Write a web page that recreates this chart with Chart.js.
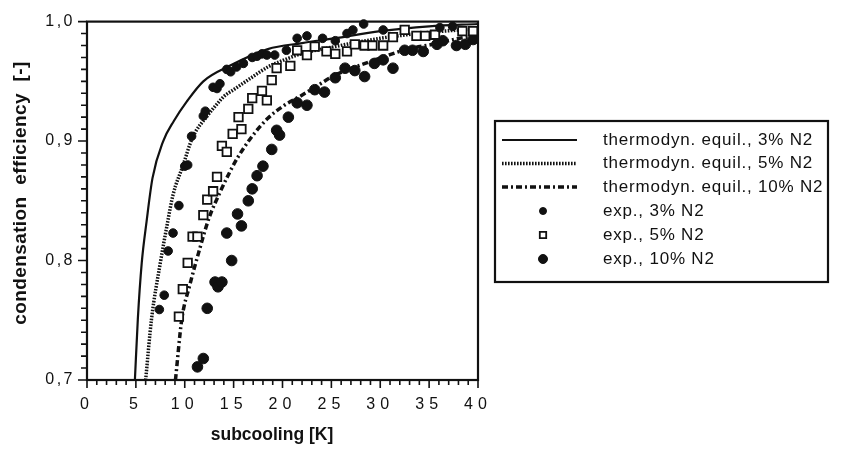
<!DOCTYPE html>
<html>
<head>
<meta charset="utf-8">
<script src="https://cdn.jsdelivr.net/npm/chart.js@4.4.0/dist/chart.umd.min.js"></script>
<style>
   html, body { margin: 0; padding: 0; background: #fff; }
</style>
</head>
<body>
<canvas id="chart-eff" width="842" height="449"></canvas>
<script>
// thermodynamic equilibrium curves
var eq3X = [4.9, 5.2, 5.6, 6.1, 6.7, 7.8, 8.9, 10.2, 11.9, 14.6, 18.5, 22, 25.3, 30, 35, 40];
var eq3Y = [0.700, 0.751, 0.798, 0.833, 0.869, 0.900, 0.917, 0.933, 0.950, 0.963, 0.977, 0.982, 0.986, 0.992, 0.996, 0.998];

var eq5X = [6.0, 6.6, 7.5, 8.2, 8.8, 9.8, 10.8, 12.3, 13.3, 14.1, 15.0, 16.8, 18.5, 20.2, 21.9, 25.3, 30, 35, 40];
var eq5Y = [0.700, 0.751, 0.798, 0.830, 0.855, 0.879, 0.903, 0.921, 0.931, 0.938, 0.943, 0.953, 0.962, 0.968, 0.973, 0.979, 0.986, 0.991, 0.994];

var eq10X = [9.05, 9.7, 10.5, 11.4, 12.5, 13.6, 14.6, 15.4, 16.8, 18.5, 20.2, 21.9, 23.7, 25.3, 27.1, 28.8, 30.5, 32.8, 35.4, 38.1, 40];
var eq10Y = [0.700, 0.751, 0.779, 0.806, 0.836, 0.857, 0.874, 0.886, 0.903, 0.919, 0.930, 0.938, 0.947, 0.955, 0.961, 0.966, 0.971, 0.977, 0.981, 0.986, 0.988];

// experiments
var exp3X = [7.4, 7.9, 8.3, 8.8, 9.4, 10.0, 10.3, 10.7, 11.9, 12.1, 12.9, 13.3, 13.6, 14.3, 14.7, 15.3, 16.0, 16.9, 17.4, 17.9, 18.4, 19.2, 20.4, 21.5, 22.5, 24.1, 25.4, 26.6, 27.2, 28.3, 30.3, 36.1, 37.4];
var exp3Y = [0.759, 0.771, 0.808, 0.823, 0.846, 0.879, 0.880, 0.904, 0.921, 0.925, 0.945, 0.944, 0.948, 0.960, 0.958, 0.962, 0.965, 0.970, 0.971, 0.973, 0.972, 0.972, 0.976, 0.986, 0.988, 0.986, 0.984, 0.990, 0.993, 0.998, 0.993, 0.995, 0.996];

var exp5X = [9.4, 9.8, 10.3, 10.8, 11.3, 11.9, 12.3, 12.9, 13.3, 13.8, 14.3, 14.9, 15.8, 15.5, 16.5, 16.9, 17.9, 18.4, 18.9, 19.4, 20.8, 21.5, 22.5, 23.3, 24.5, 25.4, 26.6, 27.4, 28.4, 29.2, 30.3, 31.3, 32.5, 33.7, 34.6, 35.6, 38.4, 39.5];
var exp5Y = [0.753, 0.776, 0.798, 0.820, 0.820, 0.838, 0.851, 0.858, 0.870, 0.896, 0.891, 0.906, 0.910, 0.920, 0.927, 0.936, 0.942, 0.934, 0.951, 0.961, 0.963, 0.976, 0.972, 0.979, 0.975, 0.973, 0.975, 0.981, 0.980, 0.980, 0.980, 0.987, 0.993, 0.988, 0.988, 0.989, 0.992, 0.992];

var exp10X = [11.3, 11.9, 12.3, 13.1, 13.4, 13.8, 14.8, 14.3, 15.8, 15.4, 16.5, 16.9, 17.4, 18.0, 18.9, 19.7, 19.4, 20.6, 21.5, 22.5, 23.3, 24.3, 25.4, 26.4, 27.4, 28.4, 29.4, 30.3, 31.3, 32.5, 33.3, 34.4, 35.8, 36.4, 37.8, 38.7, 39.5];
var exp10Y = [0.711, 0.718, 0.760, 0.782, 0.778, 0.782, 0.800, 0.823, 0.829, 0.839, 0.850, 0.860, 0.871, 0.879, 0.893, 0.905, 0.909, 0.920, 0.932, 0.930, 0.943, 0.941, 0.953, 0.961, 0.959, 0.954, 0.965, 0.968, 0.961, 0.976, 0.976, 0.975, 0.981, 0.984, 0.980, 0.981, 0.985];

var xTicksMajor = [0, 5, 10, 15, 20, 25, 30, 35, 40];
var yTicksMajor = [0.7, 0.8, 0.9, 1.0];

var legendLabels = [
   "thermodyn. equil., 3% N2",
   "thermodyn. equil., 5% N2",
   "thermodyn. equil., 10% N2",
   "exp., 3% N2",
   "exp., 5% N2",
   "exp., 10% N2",
];

var INK = "#111";
var FONT = "'Liberation Sans', Arial, Helvetica, sans-serif";

function pts(xs, ys) {
   return xs.map(function (x, i) {
      return { x: x, y: ys[i] };
   });
}

function curve(label, xs, ys, width, dash) {
   return {
      label: label,
      data: pts(xs, ys),
      showLine: true,
      borderColor: INK,
      borderWidth: width,
      borderDash: dash,
      pointRadius: 0,
      cubicInterpolationMode: "monotone",
      clip: false,
      order: 2,
   };
}

function marks(label, xs, ys, style, radius, fill, bw) {
   return {
      label: label,
      data: pts(xs, ys),
      showLine: false,
      pointStyle: style,
      pointRadius: radius,
      pointBackgroundColor: fill,
      pointBorderColor: INK,
      pointBorderWidth: bw,
      clip: false,
      order: 1,
   };
}

// frame, tick marks, titles and legend box
var decor = {
   id: "decor",
   beforeDraw: function (chart) {
      // y labels are drawn first (z 0), x labels after the datasets (z 1)
      chart.ctx.letterSpacing = "2.5px";
   },
   afterDatasetsDraw: function (chart) {
      chart.ctx.letterSpacing = "5px";
   },
   afterDraw: function (chart) {
      var ctx = chart.ctx;
      var a = chart.chartArea;
      var sx = chart.scales.x;
      var sy = chart.scales.y;
      ctx.save();
      ctx.letterSpacing = "0px";
      ctx.strokeStyle = INK;
      ctx.lineWidth = 2.2;
      ctx.strokeRect(a.left, a.top, a.right - a.left, a.bottom - a.top);

      ctx.lineWidth = 1.6;
      ctx.beginPath();
      for (var i = 0; i <= 40; i++) {
         var px = sx.getPixelForValue(i);
         var len = i % 5 === 0 ? 8 : 5;
         ctx.moveTo(px, a.bottom);
         ctx.lineTo(px, a.bottom + len);
      }
      for (var k = 0; k <= 30; k++) {
         var py = sy.getPixelForValue(0.7 + k * 0.01);
         var ly = k % 10 === 0 ? 9 : 6;
         ctx.moveTo(a.left - ly, py);
         ctx.lineTo(a.left, py);
      }
      ctx.stroke();

      // axis titles
      ctx.fillStyle = INK;
      ctx.font = "bold 17.5px " + FONT;
      ctx.textAlign = "center";
      ctx.textBaseline = "middle";
      ctx.fillText("subcooling [K]", 272, 435);
      ctx.save();
      ctx.translate(21, 193);
      ctx.rotate(-Math.PI / 2);
      ctx.font = "bold 19px " + FONT;
      ctx.letterSpacing = "0.4px";
      ctx.wordSpacing = "6px";
      ctx.fillText("condensation efficiency [-]", 0, 0);
      ctx.restore();

      // legend
      var bx = 495, by = 121, bw = 333, bh = 161;
      ctx.lineWidth = 2.2;
      ctx.strokeRect(bx, by, bw, bh);
      ctx.font = "17px " + FONT;
      ctx.letterSpacing = "0.8px";
      ctx.textAlign = "left";
      var rowY = [140, 163.5, 187, 211, 235, 259];
      chart.data.datasets.forEach(function (ds, n) {
         var y = rowY[n];
         if (ds.showLine) {
            ctx.save();
            ctx.lineWidth = ds.borderWidth;
            ctx.setLineDash(ds.borderDash || []);
            ctx.beginPath();
            ctx.moveTo(502, y);
            ctx.lineTo(577, y);
            ctx.stroke();
            ctx.restore();
         } else {
            ctx.save();
            ctx.fillStyle = ds.pointBackgroundColor;
            ctx.lineWidth = ds.pointBorderWidth;
            var r = n === 3 ? 3.5 : n === 5 ? 4.5 : 3.2;
            ctx.beginPath();
            if (ds.pointStyle === "rect") {
               ctx.rect(543 - r, y - r, 2 * r, 2 * r);
            } else {
               ctx.arc(543, y, r, 0, Math.PI * 2);
            }
            ctx.fill();
            ctx.stroke();
            ctx.restore();
         }
         ctx.fillStyle = INK;
         ctx.fillText(legendLabels[n], 603, y);
      });
      ctx.restore();
   },
};

function drawEfficiencyChart() {
   var ctxEff = document.getElementById("chart-eff").getContext("2d");

   window.graficaEff = new Chart(ctxEff, {
      type: "scatter",
      plugins: [decor],
      data: {
         datasets: [
            curve(legendLabels[0], eq3X, eq3Y, 2.2, []),
            curve(legendLabels[1], eq5X, eq5Y, 3.5, [1.6, 1.4]),
            curve(legendLabels[2], eq10X, eq10Y, 3.5, [6, 3, 2, 3]),
            marks(legendLabels[3], exp3X, exp3Y, "circle", 4.3, INK, 1),
            marks(legendLabels[4], exp5X, exp5Y, "rect", 6, "#fff", 1.8),
            marks(legendLabels[5], exp10X, exp10Y, "circle", 5.3, INK, 1),
         ],
      },
      options: {
         responsive: false,
         animation: false,
         events: [],
         layout: {
            padding: { left: 0, top: 12, right: 364, bottom: 0 },
         },
         plugins: {
            legend: { display: false },
            tooltip: { enabled: false },
         },
         scales: {
            x: {
               type: "linear",
               min: 0,
               max: 40,
               afterFit: function (s) {
                  s.height = 69;
               },
               afterBuildTicks: function (s) {
                  s.ticks = xTicksMajor.map(function (v) {
                     return { value: v };
                  });
               },
               grid: { display: false, drawTicks: false },
               border: { display: false },
               ticks: {
                  z: 1,
                  padding: 15,
                  color: INK,
                  autoSkip: false,
                  maxRotation: 0,
                  font: { size: 16, family: FONT },
               },
            },
            y: {
               type: "linear",
               min: 0.7,
               max: 1.0,
               afterFit: function (s) {
                  s.width = 87;
               },
               afterBuildTicks: function (s) {
                  s.ticks = yTicksMajor.map(function (v) {
                     return { value: v };
                  });
               },
               grid: { display: false, drawTicks: false },
               border: { display: false },
               ticks: {
                  padding: 12,
                  color: INK,
                  autoSkip: false,
                  font: { size: 16, family: FONT },
                  callback: function (v) {
                     return v.toFixed(1).replace(".", ",");
                  },
               },
            },
         },
      },
   });
}

drawEfficiencyChart();
</script>
</body>
</html>
